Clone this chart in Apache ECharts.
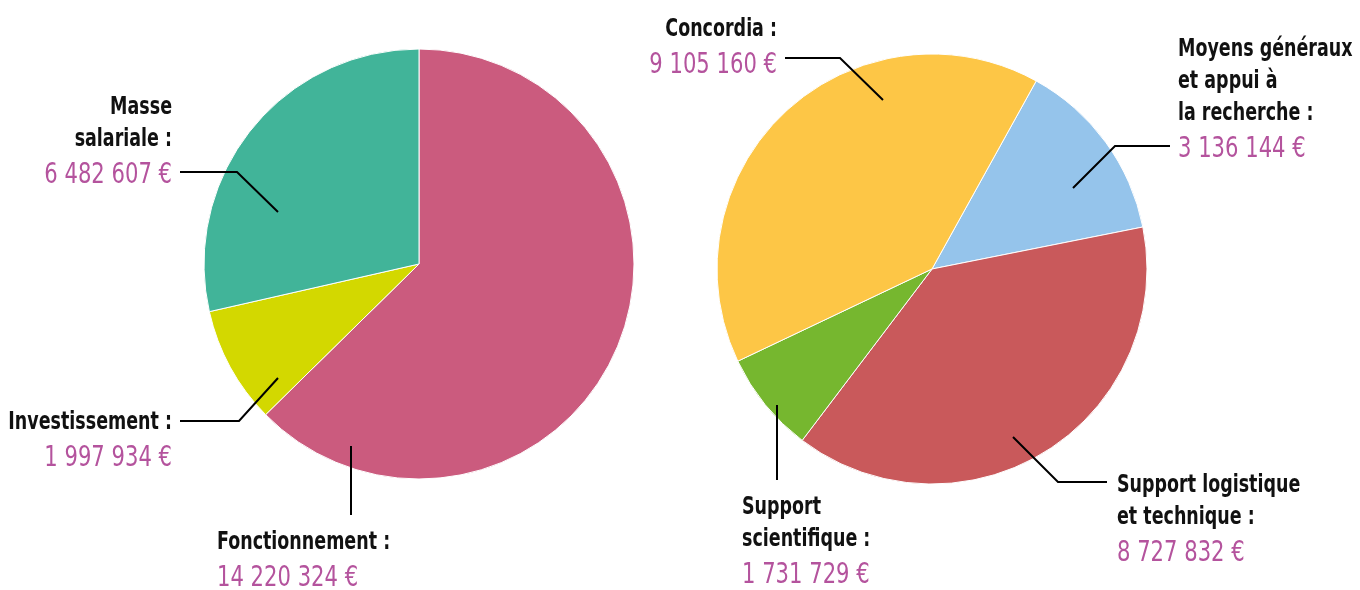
<!DOCTYPE html>
<html>
<head>
<meta charset="utf-8">
<script src="https://cdn.jsdelivr.net/npm/echarts@6/dist/echarts.min.js"></script>
<style>
  html, body { margin: 0; padding: 0; background: #fff; }
  #chart { width: 1360px; height: 590px; }
</style>
</head>
<body>
<div id="chart"></div>
<script>
// Budget split: left pie by nature of spending, right pie by destination
const leftNames = ['Fonctionnement :', 'Investissement :', 'Masse\nsalariale :'];
const leftValues = [14220324, 1997934, 6482607];
const leftColors = ['#CB5B7E', '#D3D800', '#41B499'];

const rightNames = ['Moyens généraux\net appui à\nla recherche :', 'Support logistique\net technique :', 'Support\nscientifique :', 'Concordia :'];
const rightValues = [3136144, 8727832, 1731729, 9105160];
const rightColors = ['#95C4EB', '#C9595B', '#76B72F', '#FDC646'];

// Callout placement: text anchor, alignment and leader-line path (pixels)
const leftPlacement = [
  { x: 217, y: 527, align: 'left', line: [[351, 446], [351, 515]] },
  { x: 172, y: 407, align: 'right', line: [[278, 378], [239, 421], [180, 421]] },
  { x: 172, y: 92, align: 'right', line: [[278, 212], [237, 172], [180, 172]] }
];
const rightPlacement = [
  { x: 1178, y: 34, align: 'left', line: [[1073, 188], [1115, 146], [1170, 146]] },
  { x: 1117, y: 470, align: 'left', line: [[1013, 437], [1058, 482], [1107, 482]] },
  { x: 742, y: 492, align: 'left', line: [[777, 405], [777, 480]] },
  { x: 777, y: 14, align: 'right', line: [[883, 100], [840, 58], [785, 58]] }
];

const FONT = "'DejaVu Sans Condensed', 'DejaVu Sans', sans-serif";
const NARROW = 0.81; // horizontal squeeze for a tall, condensed look

function fmt(v) {
  return String(v).replace(/\B(?=(\d{3})+(?!\d))/g, ' ') + ' €';
}

function labelText(name, value) {
  const parts = name.split('\n').map(s => '{n|' + s + '}');
  parts.push('{v|' + fmt(value) + '}');
  return parts.join('\n');
}

const rich = {
  n: { fontFamily: FONT, fontWeight: 'bold', fontSize: 24, lineHeight: 32, fill: '#111' },
  v: { fontFamily: FONT, fontSize: 29, lineHeight: 38, fill: '#B4539D' }
};

function pieSeries(names, values, colors, center, startAngle) {
  return {
    type: 'pie',
    center: center,
    radius: 215,
    startAngle: startAngle,
    clockwise: true,
    silent: true,
    animation: false,
    itemStyle: { borderColor: '#fff', borderWidth: 1 },
    label: { show: false },
    labelLine: { show: false },
    data: names.map((n, i) => ({ name: n, value: values[i], itemStyle: { color: colors[i] } }))
  };
}

function callouts(names, values, placement) {
  const out = [];
  names.forEach((n, i) => {
    const pl = placement[i];
    out.push({
      type: 'polyline',
      z: 100,
      silent: true,
      shape: { points: pl.line },
      style: { stroke: '#000', lineWidth: 2, fill: null }
    });
    out.push({
      type: 'text',
      z: 100,
      silent: true,
      x: pl.x,
      y: pl.y,
      scaleX: NARROW,
      style: {
        text: labelText(n, values[i]),
        rich: rich,
        align: pl.align,
        verticalAlign: 'top'
      }
    });
  });
  return out;
}

const chart = echarts.init(document.getElementById('chart'), null, { renderer: 'canvas' });
chart.setOption({
  backgroundColor: '#fff',
  animation: false,
  series: [
    pieSeries(leftNames, leftValues, leftColors, [419, 264], 90),
    pieSeries(rightNames, rightValues, rightColors, [932, 269], 61)
  ],
  graphic: callouts(leftNames, leftValues, leftPlacement)
    .concat(callouts(rightNames, rightValues, rightPlacement))
});
</script>
</body>
</html>
